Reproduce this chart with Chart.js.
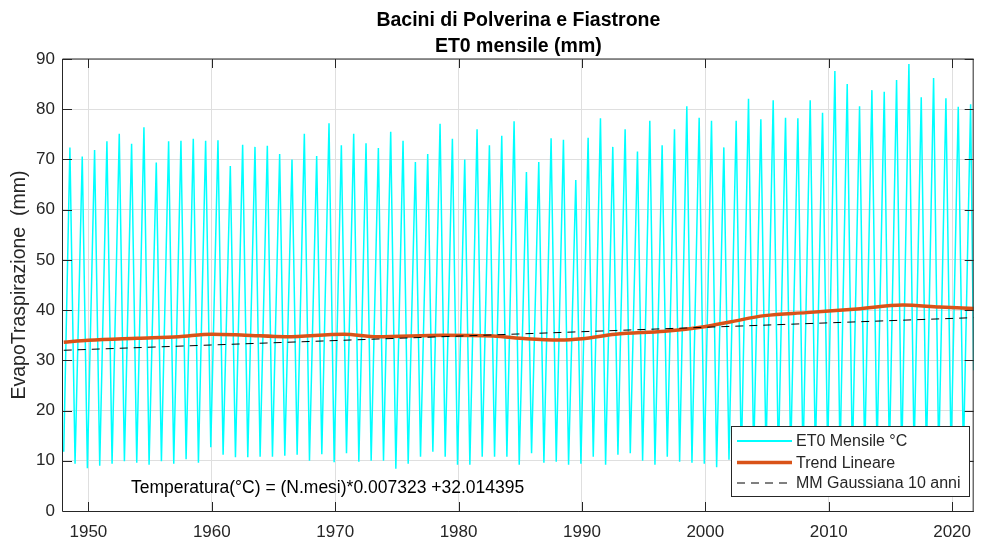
<!DOCTYPE html>
<html><head><meta charset="utf-8">
<script src="https://cdn.jsdelivr.net/npm/chart.js@4.4.1/dist/chart.umd.min.js"></script>
<style>html,body{margin:0;padding:0;background:#fff;}canvas{display:block;}</style>
</head><body>
<canvas id="c" width="982" height="540"></canvas>
<script>
// ---- DATA ----
const startYear = 1948;
const janFirstValue = 11.8;           // Jan 1948
const julyPeaks = [                   // July value of each year 1948..2021
  72.4, 70.6, 71.9, 73.6, 75.1, 73.1, 76.4, 69.4, 73.6, 73.7,
  74.1, 73.7, 73.8, 68.7, 72.9, 72.5, 72.7, 71.1, 70.0, 75.1,
  70.7, 77.2, 72.8, 75.1, 73.2, 72.3, 75.5, 73.7, 69.5, 71.1,
  77.1, 74.1, 70.0, 76.0, 72.8, 74.7, 77.6, 67.5, 69.5, 74.2,
  73.9, 65.9, 74.3, 78.2, 72.5, 76.0, 71.6, 77.7, 72.8, 76.0,
  80.6, 78.3, 77.7, 72.4, 77.7, 82.1, 78.0, 81.8, 78.3, 78.2,
  81.8, 79.3, 87.6, 85.0, 80.6, 83.8, 83.5, 85.8, 89.0, 82.4,
  86.2, 82.2, 80.5, 81.0
];
const decTroughs = [                  // December value of each year 1948..2020
  9.4, 8.5, 9.0, 9.4, 9.9, 9.6, 9.2, 9.9, 9.4, 10.3,
  9.6, 12.7, 11.2, 10.7, 10.7, 10.8, 10.8, 11.0, 11.2, 10.0,
  11.3, 9.7, 11.5, 9.8, 10.0, 10.0, 8.4, 9.4, 10.8, 11.8,
  10.8, 9.2, 9.2, 10.8, 10.8, 10.8, 9.2, 11.5, 9.6, 9.8,
  9.2, 9.4, 10.8, 9.2, 11.2, 11.5, 10.0, 9.2, 10.8, 9.8,
  9.6, 9.4, 8.7, 10.2, 9.8, 10.5, 11.0, 9.6, 10.4, 9.9,
  10.8, 11.2, 10.1, 9.7, 10.6, 11.4, 10.3, 9.8, 10.9, 10.5,
  10.0, 11.1, 10.8
];
const lastPoint = { x: 2021.75, y: 28 };  // Oct 2021
const smoothYears  = [1948, 1950, 1954, 1957.3, 1960, 1962.7, 1966, 1970.7, 1973.4, 1978.8, 1982.8, 1985.5, 1988.2, 1990, 1992.7, 1996.7, 1999.9, 2002.1, 2004.8, 2008.2, 2012.3, 2016, 2019, 2021.75];
const smoothValues = [33.6, 34.0, 34.4, 34.7, 35.2, 35.0, 34.7, 35.2, 34.7, 35.0, 34.85, 34.3, 34.05, 34.3, 35.2, 35.8, 36.7, 37.7, 38.9, 39.5, 40.2, 41.0, 40.6, 40.3];
const linearYears  = [1948, 2021.75];
const linearValues = [32.0, 38.5];
const xTicks = [1950, 1960, 1970, 1980, 1990, 2000, 2010, 2020];
const yTicks = [0, 10, 20, 30, 40, 50, 60, 70, 80, 90];
const titleLines = ['Bacini di Polverina e Fiastrone', 'ET0 mensile (mm)'];
const yTitle = 'EvapoTraspirazione  (mm)';
const legendLabels = ['ET0 Mensile °C', 'Trend Lineare', 'MM Gaussiana 10 anni'];
const noteText = 'Temperatura(°C) = (N.mesi)*0.007323 +32.014395';

// ---- build point lists ----
const et0Points = [{ x: startYear, y: janFirstValue }];
julyPeaks.forEach((v, i) => {
  et0Points.push({ x: startYear + i + 6 / 12, y: v });
  if (i < decTroughs.length) et0Points.push({ x: startYear + i + 11 / 12, y: decTroughs[i] });
});
et0Points.push(lastPoint);
const smoothPoints = smoothYears.map((x, i) => ({ x, y: smoothValues[i] }));
const linearPoints = linearYears.map((x, i) => ({ x, y: linearValues[i] }));

const FONT = "'Liberation Sans', Arial, Helvetica, sans-serif";
const INK = '#262626';
const COLORS = { et0: '#00ffff', smooth: '#d95319', linear: '#000000' };

const framePlugin = {
  id: 'frame',
  afterDatasetsDraw(chart) {
    const { ctx, chartArea: a, scales } = chart;
    const L = a.left, R = a.right, T = a.top, B = a.bottom;
    ctx.save();
    // box
    ctx.strokeStyle = INK; ctx.lineWidth = 1;
    ctx.beginPath();
    ctx.moveTo(L - 0.5, T); ctx.lineTo(R, T);
    ctx.moveTo(L - 0.5, T); ctx.lineTo(L - 0.5, B + 0.5);
    ctx.lineTo(R, B + 0.5);
    ctx.moveTo(R - 0.5, T); ctx.lineTo(R - 0.5, B);
    ctx.stroke();
    // ticks (inward)
    const tl = 9;
    ctx.beginPath();
    yTicks.forEach(v => {
      const y = Math.round(scales.y.getPixelForValue(v)) + 0.5;
      ctx.moveTo(L, y); ctx.lineTo(L + tl, y);
      ctx.moveTo(R, y); ctx.lineTo(R - tl, y);
    });
    xTicks.forEach(v => {
      const x = Math.round(scales.x.getPixelForValue(v)) + 0.5;
      ctx.moveTo(x, B); ctx.lineTo(x, B - tl);
      ctx.moveTo(x, T); ctx.lineTo(x, T + tl);
    });
    ctx.stroke();

    // legend
    const lx = 731.5, ly = 426.5, lw = 238, lh = 70;
    ctx.fillStyle = '#fff';
    ctx.fillRect(lx, ly, lw, lh);
    ctx.strokeStyle = INK; ctx.lineWidth = 1;
    ctx.strokeRect(lx, ly, lw, lh);
    const rows = [441, 462.5, 483];
    const styles = [
      { c: COLORS.et0, w: 2, d: [] },
      { c: COLORS.smooth, w: 3.5, d: [] },
      { c: COLORS.linear, w: 1, d: [8, 6] }
    ];
    ctx.font = '16px ' + FONT;
    ctx.textBaseline = 'middle';
    ctx.textAlign = 'left';
    rows.forEach((y, i) => {
      const s = styles[i];
      ctx.strokeStyle = s.c; ctx.lineWidth = s.w; ctx.setLineDash(s.d);
      ctx.beginPath(); ctx.moveTo(737, y); ctx.lineTo(792, y); ctx.stroke();
      ctx.setLineDash([]);
      ctx.fillStyle = INK;
      ctx.fillText(legendLabels[i], 796, Math.round(y) + 1);
    });

    // note
    ctx.font = '17.5px ' + FONT;
    ctx.fillStyle = '#000';
    ctx.textBaseline = 'alphabetic';
    ctx.fillText(noteText, 131, 493);

    // title
    ctx.font = 'bold 19.5px ' + FONT;
    ctx.textAlign = 'center';
    ctx.fillStyle = '#000';
    const cx = (L + R) / 2;
    ctx.fillText(titleLines[0], cx, 26);
    ctx.fillText(titleLines[1], cx, 52);
    ctx.restore();
  }
};

new Chart(document.getElementById('c').getContext('2d'), {
  type: 'line',
  data: {
    datasets: [
      { label: legendLabels[0], data: et0Points, borderColor: COLORS.et0, borderWidth: 1.5, pointRadius: 0, tension: 0, order: 3 },
      { label: legendLabels[1], data: smoothPoints, borderColor: COLORS.smooth, borderWidth: 3.5, pointRadius: 0, cubicInterpolationMode: 'monotone', order: 2 },
      { label: legendLabels[2], data: linearPoints, borderColor: COLORS.linear, borderWidth: 1, borderDash: [8, 6], pointRadius: 0, order: 1 }
    ]
  },
  options: {
    responsive: false, animation: false, devicePixelRatio: 1, events: [],
    layout: { padding: { top: 59, left: 0, right: 0, bottom: 0 } },
    plugins: { legend: { display: false }, tooltip: { enabled: false }, title: { display: false } },
    scales: {
      x: {
        type: 'linear', min: 1947.94, max: 2021.75,
        afterFit(s) { s.height = 29; },
        afterBuildTicks(s) { s.ticks = xTicks.map(v => ({ value: v })); },
        grid: { color: '#dfdfdf', drawTicks: false },
        border: { display: false },
        ticks: { padding: 11, autoSkip: false, maxRotation: 0, color: INK, font: { family: FONT, size: 17 }, callback: v => String(v) }
      },
      y: {
        type: 'linear', min: 0, max: 90,
        afterFit(s) { s.width = 63; },
        afterBuildTicks(s) { s.ticks = yTicks.map(v => ({ value: v })); },
        grid: { color: '#dfdfdf', drawTicks: false },
        border: { display: false },
        ticks: { padding: 8, color: INK, font: { family: FONT, size: 17 }, callback: v => String(v) },
        title: { display: true, text: yTitle, color: INK, font: { family: FONT, size: 19.5 }, padding: { top: 8, bottom: 0 } }
      }
    }
  },
  plugins: [framePlugin]
});
</script>
</body></html>
